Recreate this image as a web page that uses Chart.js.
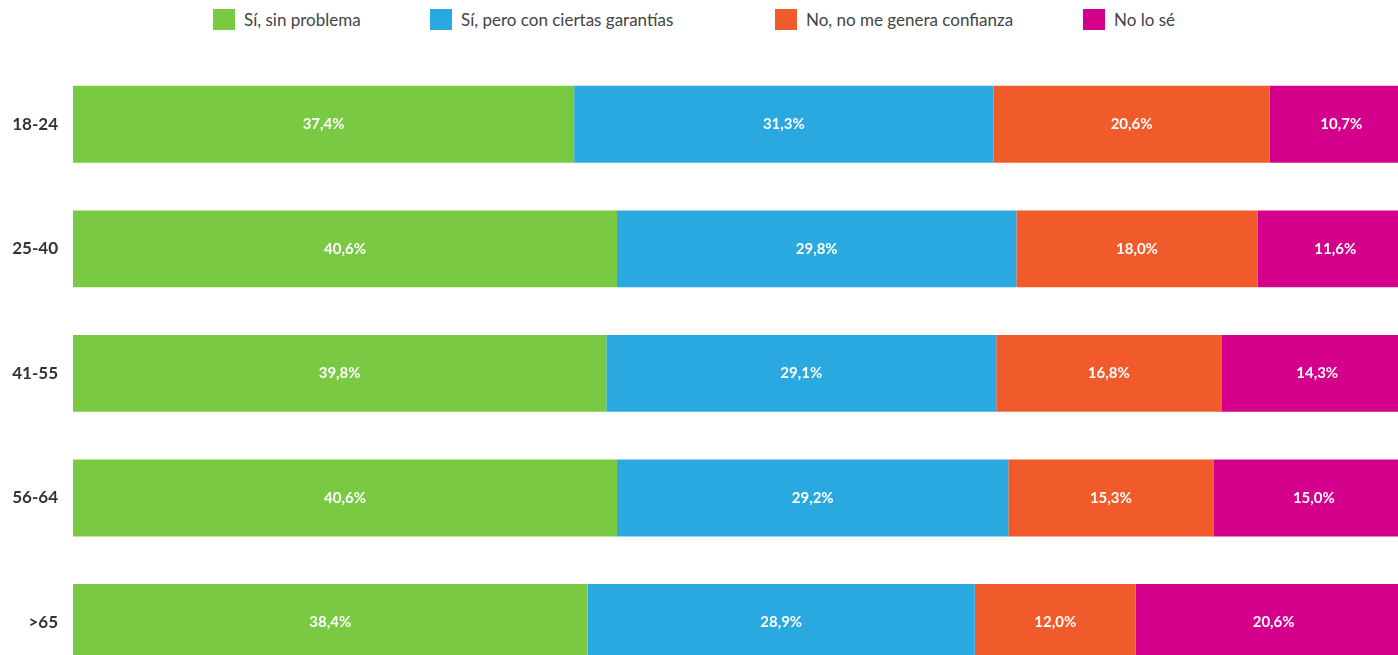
<!DOCTYPE html>
<html lang="es">
<head>
<meta charset="utf-8">
<title>Confianza por edad</title>
<script src="https://cdn.jsdelivr.net/npm/chart.js@4"></script>
<style>
  html, body { margin: 0; padding: 0; background: #fff; overflow: hidden; }
  body { width: 1398px; height: 655px; position: relative; font-family: Lato, "Open Sans", sans-serif; }
  #legend { position: absolute; top: 0; left: 0; width: 1398px; height: 40px; }
  .item { position: absolute; top: 9px; height: 21px; display: flex; align-items: center; font-size: 17px; color: #444; white-space: nowrap; }
  .item span.box { display: inline-block; width: 22px; height: 21px; margin-right: 9px; }
  #wrap { position: absolute; top: 0; left: 0; width: 1420px; height: 710px; }
</style>
</head>
<body>
<div id="legend"></div>
<div id="wrap"><canvas id="chart"></canvas></div>
<script>
const ageGroups = ["18-24", "25-40", "41-55", "56-64", ">65"];
const seriesNames = ["Sí, sin problema", "Sí, pero con ciertas garantías", "No, no me genera confianza", "No lo sé"];
const sinProblema = [37.4, 40.6, 39.8, 40.6, 38.4];
const conGarantias = [31.3, 29.8, 29.1, 29.2, 28.9];
const noConfianza = [20.6, 18.0, 16.8, 15.3, 12.0];
const noLoSe = [10.7, 11.6, 14.3, 15.0, 20.6];

const colors = ["#7ac943", "#29a9e0", "#f15a2b", "#d4008c"];
const legendLeft = [213, 430, 775, 1083];

// leyenda en html, con los huecos del original
const legend = document.getElementById("legend");
seriesNames.forEach((name, i) => {
  const item = document.createElement("div");
  item.className = "item";
  item.style.left = legendLeft[i] + "px";
  item.innerHTML = `<span class="box" style="background:${colors[i]}"></span>${name}`;
  legend.appendChild(item);
});

const valueLabels = {
  id: "valueLabels",
  afterDatasetsDraw(chart) {
    const ctx = chart.ctx;
    ctx.save();
    ctx.font = "bold 15px Lato, sans-serif";
    ctx.fillStyle = "#fff";
    ctx.textAlign = "center";
    ctx.textBaseline = "middle";
    chart.data.datasets.forEach((ds, i) => {
      chart.getDatasetMeta(i).data.forEach((bar, j) => {
        const p = bar.getCenterPoint();
        ctx.fillText(ds.data[j].toFixed(1).replace(".", ",") + "%", p.x, p.y);
      });
    });
    ctx.restore();
  },
};

const seriesData = [sinProblema, conGarantias, noConfianza, noLoSe];

new Chart(document.getElementById("chart"), {
  type: "bar",
  data: {
    labels: ageGroups,
    datasets: seriesNames.map((name, i) => ({
      label: name,
      data: seriesData[i],
      backgroundColor: colors[i],
      borderWidth: 0,
      barPercentage: 0.617,
      categoryPercentage: 1,
    })),
  },
  options: {
    indexAxis: "y",
    responsive: true,
    maintainAspectRatio: false,
    devicePixelRatio: 1,
    animation: false,
    layout: { padding: { top: 62, bottom: 15, left: 0, right: 7 } },
    plugins: {
      legend: { display: false },
      tooltip: { enabled: false },
    },
    scales: {
      x: {
        stacked: true,
        min: 0,
        max: 100,
        display: false,
      },
      y: {
        stacked: true,
        grid: { display: false, drawTicks: false },
        border: { display: false },
        afterFit: (scale) => { scale.width = 73; },
        ticks: {
          padding: 15,
          color: "#333",
          font: { family: "Lato", size: 17, weight: "bold" },
        },
      },
    },
  },
  plugins: [valueLabels],
});
</script>
</body>
</html>
